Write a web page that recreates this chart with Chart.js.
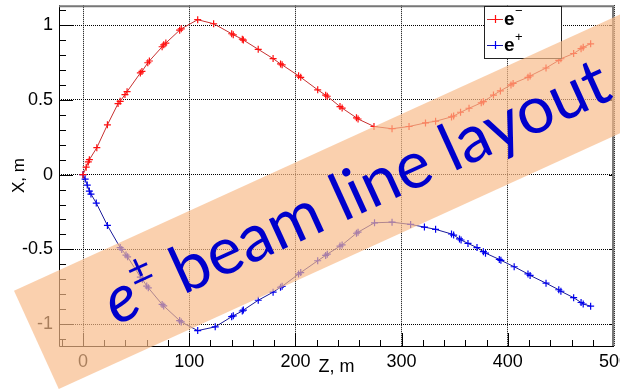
<!DOCTYPE html>
<html>
<head>
<meta charset="utf-8">
<script src="https://cdn.jsdelivr.net/npm/chart.js@4.4.0/dist/chart.umd.min.js"></script>
<style>
  body { margin: 0; background: #fff; }
  canvas { display: block; }
</style>
</head>
<body>
<canvas id="chart" width="620" height="392"></canvas>
<script>
// Beam line: Z along the line (m), X transverse offset (m)
const zElectron = [0, 3, 5, 6, 13, 23, 33, 35, 39.5, 41.5, 54, 55.5, 61, 62.5, 74.5, 76, 78, 91, 92.5, 108,
  123, 140, 141.5, 150, 151, 165, 179, 186, 187.5, 203, 205, 221, 228.5, 230, 242, 244, 257.5, 259, 274, 291,
  307, 322.5, 332, 347, 349, 355.5, 363.5, 375, 377, 386.5, 393, 403, 405, 419, 421, 436, 448, 450, 462, 469, 471, 478];
const xElectron = [0, 0.05, 0.085, 0.1, 0.18, 0.333, 0.475, 0.49, 0.535, 0.555, 0.68, 0.69, 0.748, 0.76, 0.855, 0.868, 0.88, 0.966, 0.975, 1.036,
  1.009, 0.942, 0.935, 0.906, 0.9, 0.838, 0.776, 0.74, 0.734, 0.661, 0.651, 0.567, 0.531, 0.524, 0.455, 0.445, 0.38, 0.372, 0.322, 0.307,
  0.322, 0.346, 0.357, 0.386, 0.392, 0.417, 0.444, 0.48, 0.488, 0.532, 0.56, 0.6, 0.61, 0.651, 0.66, 0.713, 0.764, 0.775, 0.81, 0.842, 0.852, 0.875];

const zPositron = [0, 2, 4, 6, 7.5, 12.5, 23, 35, 36.5, 40.5, 42, 54, 56, 60, 61.5, 74.5, 76, 91, 92.5, 108,
  124.5, 140, 141.5, 150, 151, 165, 179, 186, 187.5, 203, 205, 221, 228.5, 230, 242, 244, 257.5, 259, 274.5, 291,
  308.5, 321.5, 332, 347, 349, 354.5, 356, 362.5, 371, 377, 379, 392, 393.5, 406, 419, 421, 436, 448, 450, 462, 469, 471, 478];
const xPositron = [0, -0.03, -0.07, -0.11, -0.13, -0.19, -0.34, -0.488, -0.5, -0.538, -0.55, -0.685, -0.7, -0.745, -0.757, -0.868, -0.878, -0.976, -0.985, -1.043,
  -1.018, -0.95, -0.944, -0.912, -0.906, -0.84, -0.786, -0.753, -0.747, -0.665, -0.655, -0.576, -0.54, -0.532, -0.478, -0.47, -0.392, -0.385, -0.322, -0.318,
  -0.333, -0.351, -0.366, -0.397, -0.404, -0.43, -0.437, -0.46, -0.488, -0.515, -0.525, -0.567, -0.573, -0.616, -0.664, -0.674, -0.726, -0.77, -0.78, -0.823, -0.855, -0.865, -0.88];

const seriesNames = ['e\u2212', 'e+'];
const lineColors = ['#c83030', '#1a1a9a'];
const markerColors = ['#ff1010', '#0000ee'];
const xTicks = [0, 100, 200, 300, 400, 500];
const yTicks = [-1, -0.5, 0, 0.5, 1];
const bannerText = 'beam line layout';

const toPoints = (zs, xs) => zs.map((z, i) => ({ x: z, y: xs[i] }));

// ROOT style: ticks inside the frame, minor ticks, frame box
const frameTicks = {
  id: 'frameTicks',
  afterDatasetsDraw(chart) {
    const { ctx, chartArea: a, scales: { x, y } } = chart;
    ctx.save();
    ctx.strokeStyle = '#000';
    ctx.lineWidth = 1;
    ctx.beginPath();
    for (let k = -1; k <= 25; k++) {
      const px = Math.round(x.getPixelForValue(k * 20)) + 0.5;
      if (px < a.left || px > a.right) continue;
      const len = k % 5 === 0 ? 13 : 6;
      ctx.moveTo(px, a.bottom);
      ctx.lineTo(px, a.bottom - len);
    }
    for (let k = -11; k <= 11; k++) {
      const py = Math.round(y.getPixelForValue(k / 10)) + 0.5;
      const len = k % 5 === 0 ? 14 : 7;
      ctx.moveTo(a.left, py);
      ctx.lineTo(a.left + len, py);
      if (k % 5 === 0) {
        ctx.moveTo(a.right, py);
        ctx.lineTo(a.right - 5, py);
      }
    }
    ctx.stroke();
    ctx.beginPath();
    ctx.moveTo(a.left + 0.5, a.top);
    ctx.lineTo(a.left + 0.5, a.bottom + 0.5);
    ctx.lineTo(a.right, a.bottom + 0.5);
    ctx.stroke();
    ctx.strokeStyle = '#777';
    ctx.lineWidth = 2;
    ctx.beginPath();
    ctx.moveTo(a.left, a.top + 1);
    ctx.lineTo(a.right - 1, a.top + 1);
    ctx.lineTo(a.right - 1, a.bottom);
    ctx.stroke();
    ctx.restore();
  }
};

const boxLegend = {
  id: 'boxLegend',
  afterDatasetsDraw(chart) {
    const ctx = chart.ctx;
    ctx.save();
    ctx.fillStyle = '#fff';
    ctx.fillRect(484, 6, 78, 53);
    ctx.strokeStyle = '#222';
    ctx.lineWidth = 1;
    ctx.strokeRect(484.5, 6.5, 77, 52);
    chart.data.datasets.forEach((ds, i) => {
      const yy = 19 + i * 26;
      ctx.lineWidth = 1;
      ctx.strokeStyle = lineColors[i];
      ctx.beginPath();
      ctx.moveTo(487, yy + 0.5);
      ctx.lineTo(503, yy + 0.5);
      ctx.stroke();
      ctx.strokeStyle = markerColors[i];
      ctx.lineWidth = 1.2;
      ctx.beginPath();
      ctx.moveTo(495.5, yy - 4);
      ctx.lineTo(495.5, yy + 4);
      ctx.moveTo(491.5, yy + 0.5);
      ctx.lineTo(499.5, yy + 0.5);
      ctx.stroke();
      ctx.fillStyle = '#000';
      ctx.textBaseline = 'middle';
      ctx.font = 'bold 19px "Liberation Sans"';
      ctx.fillText(ds.label[0], 504, yy + 1);
      ctx.font = '13px "Liberation Sans"';
      ctx.fillText(ds.label.slice(1), 515, yy - 8);
    });
    ctx.restore();
  }
};

const banner = {
  id: 'banner',
  afterDraw(chart) {
    const ctx = chart.ctx;
    ctx.save();
    ctx.translate(14, 290.7);
    ctx.rotate(-24.5 * Math.PI / 180);
    ctx.fillStyle = 'rgba(247,185,135,0.68)';
    ctx.fillRect(0, 0, 760, 108);
    ctx.fillStyle = '#0000cc';
    ctx.textBaseline = 'alphabetic';
    ctx.font = 'italic 66px Lato';
    ctx.fillText('e', 78, 74);
    let cx = 78 + ctx.measureText('e').width;
    ctx.font = '41px Lato';
    ctx.fillText('\u00b1', cx + 1, 46);
    cx += ctx.measureText('\u00b1').width + 2;
    ctx.font = '66px Lato';
    ctx.fillText(' ' + bannerText, cx, 74);
    ctx.restore();
  }
};

new Chart(document.getElementById('chart'), {
  type: 'scatter',
  data: {
    datasets: [{
      label: seriesNames[0],
      data: toPoints(zElectron, xElectron),
      showLine: true,
      borderColor: lineColors[0],
      borderWidth: 1,
      pointStyle: 'cross',
      pointRadius: 3.5,
      pointBorderColor: markerColors[0],
      pointBorderWidth: 1.2
    }, {
      label: seriesNames[1],
      data: toPoints(zPositron, xPositron),
      showLine: true,
      borderColor: lineColors[1],
      borderWidth: 1,
      pointStyle: 'cross',
      pointRadius: 3.5,
      pointBorderColor: markerColors[1],
      pointBorderWidth: 1.2
    }]
  },
  options: {
    responsive: false,
    animation: false,
    layout: { padding: { top: 2, right: 6, left: 0, bottom: 0 } },
    plugins: {
      legend: { display: false },
      tooltip: { enabled: false }
    },
    scales: {
      x: {
        type: 'linear',
        min: -22.6,
        max: 500,
        afterBuildTicks: s => { s.ticks = xTicks.map(v => ({ value: v })); },
        afterFit: s => { s.height = 46; s.paddingLeft = 0; s.paddingRight = 0; },
        grid: { color: '#000', drawTicks: false },
        border: { display: false, dash: [1, 1] },
        ticks: {
          padding: 5, color: '#000', maxRotation: 0, autoSkip: false,
          font: { family: 'Liberation Sans', size: 18 },
          callback: v => String(v)
        },
        title: {
          display: true, text: 'Z, m', color: '#000',
          font: { family: 'Liberation Sans', size: 18 },
          padding: { top: 0, bottom: 14 }
        }
      },
      y: {
        type: 'linear',
        min: -1.146,
        max: 1.133,
        afterBuildTicks: s => { s.ticks = yTicks.map(v => ({ value: v })); },
        afterFit: s => { s.width = 59; s.paddingTop = 0; s.paddingBottom = 0; },
        grid: { color: '#000', drawTicks: false },
        border: { display: false, dash: [1, 1] },
        ticks: {
          padding: 6, color: '#000',
          font: { family: 'Liberation Sans', size: 18 },
          callback: v => String(v)
        },
        title: {
          display: true, text: 'X, m', color: '#000',
          font: { family: 'Liberation Sans', size: 17 },
          padding: { top: 9, bottom: 0 }
        }
      }
    }
  },
  plugins: [frameTicks, boxLegend, banner]
});
</script>
</body>
</html>
